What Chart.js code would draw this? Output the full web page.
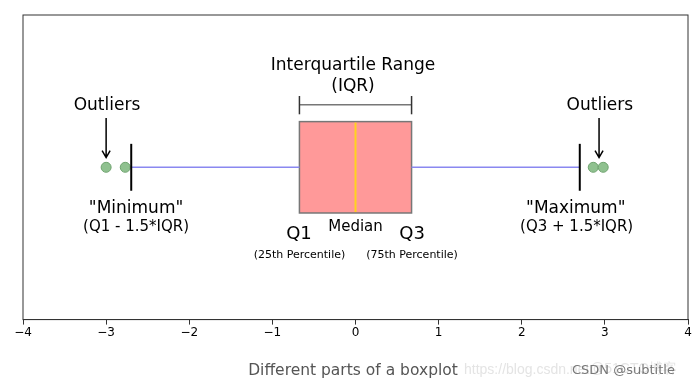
<!DOCTYPE html>
<html>
<head>
<meta charset="utf-8">
<script src="https://cdn.jsdelivr.net/npm/chart.js@4/dist/chart.umd.min.js"></script>
<style>
body{margin:0;background:#fff;}
</style>
</head>
<body>
<canvas id="myChart" width="699" height="385"></canvas>
<script>
const xTicks=[-4,-3,-2,-1,0,1,2,3,4];
const whiskerLow=-2.698;
const q1=-0.6745;
const median=0;
const q3=0.6745;
const whiskerHigh=2.698;
const outliersLow=[-3.0,-2.77];
const outliersHigh=[2.86,2.98];
const caption="Different parts of a boxplot";

const font="'DejaVu Sans', sans-serif";
const level=5;

function fmt(v){
    return v<0 ? "\u2212"+Math.abs(v) : ""+v;
}

function text(ctx,x,y,size,str,color){
    ctx.font=size+"px "+font;
    ctx.fillStyle=color||"#000";
    ctx.textAlign="center";
    ctx.textBaseline="middle";
    ctx.fillText(str,x,y);
}

function arrow(ctx,x,y1,y2){
    ctx.strokeStyle="#000";
    ctx.lineWidth=1.5;
    ctx.beginPath();
    ctx.moveTo(x,y1);
    ctx.lineTo(x,y2);
    ctx.moveTo(x-4,y2-7);
    ctx.lineTo(x,y2);
    ctx.lineTo(x+4,y2-7);
    ctx.stroke();
}

const boxPlugin={
    id:"boxPlugin",
    beforeDatasetsDraw(chart){
        const ctx=chart.ctx;
        const xs=chart.scales.x, ys=chart.scales.y;
        ctx.save();
        // box
        let left=xs.getPixelForValue(q1), right=xs.getPixelForValue(q3);
        let top=ys.getPixelForValue(6.5), bottom=ys.getPixelForValue(3.5);
        ctx.fillStyle="#ff9999";
        ctx.fillRect(left,top,right-left,bottom-top);
        ctx.strokeStyle="#777";
        ctx.lineWidth=1.5;
        ctx.strokeRect(left,top,right-left,bottom-top);
        let mx=xs.getPixelForValue(median);
        ctx.strokeStyle="#ffd21f";
        ctx.lineWidth=2;
        ctx.beginPath();
        ctx.moveTo(mx,top+1);
        ctx.lineTo(mx,bottom-1);
        ctx.stroke();
        ctx.restore();
    },
    afterDatasetsDraw(chart){
        const ctx=chart.ctx;
        const xs=chart.scales.x, ys=chart.scales.y;
        const a=chart.chartArea;
        const X=v=>xs.getPixelForValue(v), Y=v=>ys.getPixelForValue(v);
        ctx.save();
        // whisker caps
        ctx.strokeStyle="#000";
        ctx.lineWidth=2;
        [whiskerLow,whiskerHigh].forEach(w=>{
            ctx.beginPath();
            ctx.moveTo(X(w),Y(5.77));
            ctx.lineTo(X(w),Y(4.23));
            ctx.stroke();
        });
        // IQR bracket
        ctx.strokeStyle="#777";
        ctx.lineWidth=1.5;
        ctx.beginPath();
        ctx.moveTo(X(q1),Y(7.05));
        ctx.lineTo(X(q3),Y(7.05));
        ctx.stroke();
        ctx.strokeStyle="#333";
        [q1,q3].forEach(q=>{
            ctx.beginPath();
            ctx.moveTo(X(q),Y(7.34));
            ctx.lineTo(X(q),Y(6.74));
            ctx.stroke();
        });
        // arrows
        arrow(ctx,X(outliersLow[0]),Y(6.62),Y(5.32));
        arrow(ctx,X(2.93),Y(6.62),Y(5.32));
        // labels
        text(ctx,X(-0.03),Y(8.33),17,"Interquartile Range");
        text(ctx,X(-0.03),Y(7.66),17,"(IQR)");
        text(ctx,X(-2.99),Y(7.02),17,"Outliers");
        text(ctx,X(2.94),Y(7.02),17,"Outliers");
        text(ctx,X(-2.64),Y(3.66),17,"\"Minimum\"");
        text(ctx,X(-2.64),Y(3.04),15,"(Q1 - 1.5*IQR)");
        text(ctx,X(2.65),Y(3.66),17,"\"Maximum\"");
        text(ctx,X(2.66),Y(3.04),15,"(Q3 + 1.5*IQR)");
        text(ctx,X(median),Y(3.04),15,"Median");
        text(ctx,X(-0.68),Y(2.79),18,"Q1");
        text(ctx,X(0.68),Y(2.79),18,"Q3");
        text(ctx,X(-0.674),Y(2.11),11,"(25th Percentile)");
        text(ctx,X(0.68),Y(2.11),11,"(75th Percentile)");
        // frame
        ctx.strokeStyle="#333";
        ctx.lineWidth=1;
        ctx.strokeRect(a.left,a.top,a.right-a.left,a.bottom-a.top);
        // caption + watermark
        text(ctx,X(-0.03),371,15.5,caption,"#555");
        ctx.font="14px 'Liberation Sans', sans-serif";
        ctx.textAlign="left";
        ctx.textBaseline="middle";
        ctx.fillStyle="#e4e4e4";
        ctx.fillText("https://blog.csdn.net",464,370);
        ctx.fillText("@51CTO\u535a\u5ba2",590,369);
        ctx.font="13px 'DejaVu Sans', sans-serif";
        ctx.fillStyle="#777";
        ctx.fillText("CSDN @subtitle",572,371);
        ctx.restore();
    }
};

const outlierData=outliersLow.concat(outliersHigh).map(v=>({x:v,y:level}));

let chart=new Chart("myChart",{
    type:"scatter",
    data:{
        datasets:[{
            data:[{x:whiskerLow,y:level},{x:q1,y:level}],
            showLine:true,
            borderColor:"#8a88f0",
            borderWidth:1.5,
            pointRadius:0
        },{
            data:[{x:q3,y:level},{x:whiskerHigh,y:level}],
            showLine:true,
            borderColor:"#8a88f0",
            borderWidth:1.5,
            pointRadius:0
        },{
            data:outlierData,
            pointRadius:5,
            backgroundColor:"#8fc18f",
            borderColor:"#6fa36f",
            borderWidth:1
        }]
    },
    options:{
        responsive:false,
        animation:false,
        layout:{padding:{top:15,left:23,right:11,bottom:44}},
        plugins:{legend:{display:false},tooltip:{enabled:false}},
        scales:{
            x:{
                type:"linear",
                min:-4,max:4,
                afterBuildTicks:s=>{s.ticks=xTicks.map(v=>({value:v}));},
                ticks:{
                    callback:v=>fmt(v),
                    color:"#000",
                    padding:1,
                    maxRotation:0,
                    font:{family:"DejaVu Sans",size:12}
                },
                grid:{drawOnChartArea:false,tickLength:5,color:"#333"},
                border:{color:"#333",width:1}
            },
            y:{min:0,max:10,display:false}
        }
    },
    plugins:[boxPlugin]
})
</script>
</body>
</html>
